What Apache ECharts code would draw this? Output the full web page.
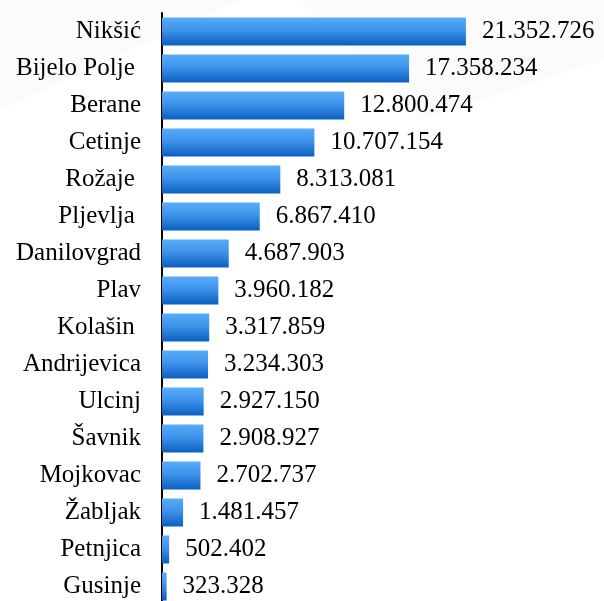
<!DOCTYPE html>
<html>
<head>
<meta charset="utf-8">
<script src="https://cdn.jsdelivr.net/npm/echarts@6/dist/echarts.min.js"></script>
<style>html,body{margin:0;padding:0;background:#fff;overflow:hidden}#c{width:604px;height:620px}</style>
</head>
<body>
<div id="c"></div>
<script>
const categories = ["Nikšić","Bijelo Polje ","Berane","Cetinje","Rožaje ","Pljevlja ","Danilovgrad","Plav","Kolašin ","Andrijevica","Ulcinj","Šavnik","Mojkovac","Žabljak","Petnjica","Gusinje"];
const values = [21352726,17358234,12800474,10707154,8313081,6867410,4687903,3960182,3317859,3234303,2927150,2908927,2702737,1481457,502402,323328];

function fmt(v){return String(v).replace(/\B(?=(\d{3})+(?!\d))/g,'.');}

const FONT = "Liberation Serif";
const chart = echarts.init(document.getElementById('c'));
chart.setOption({
  backgroundColor:'#ffffff',
  animation:false,
  textStyle:{fontFamily:FONT},
  graphic:[
    {type:'polygon',silent:true,z:-10,shape:{points:[[0,0],[240,0],[0,110]]},style:{fill:'rgba(225,225,225,0.12)'}},
    {type:'polygon',silent:true,z:-10,shape:{points:[[300,0],[604,0],[604,60],[420,120]]},style:{fill:'rgba(225,225,225,0.12)'}}
  ],
  grid:{left:162,top:13,height:592,width:427},
  xAxis:{type:'value',min:0,max:30000000,show:false},
  yAxis:{type:'category',inverse:true,data:categories,
    axisLine:{show:true,lineStyle:{color:'#000',width:2}},
    axisTick:{show:false},
    axisLabel:{margin:21,color:'#000',fontFamily:FONT,fontSize:25,
      formatter:v=>'{a|'+v+'}',rich:{a:{fontFamily:FONT,fontSize:25,color:'#000'}}}
  },
  series:[{
    type:'bar',data:values,barWidth:28,
    itemStyle:{color:new echarts.graphic.LinearGradient(0,0,0,1,[{offset:0,color:'#58acf9'},{offset:0.45,color:'#3f93ea'},{offset:1,color:'#0a5fc0'}])},
    label:{show:true,position:'right',distance:16,color:'#000',fontFamily:FONT,fontSize:25,
      formatter:p=>'{a|'+fmt(p.value)+'}',rich:{a:{fontFamily:FONT,fontSize:25,color:'#000'}}}
  }]
});
</script>
</body>
</html>
